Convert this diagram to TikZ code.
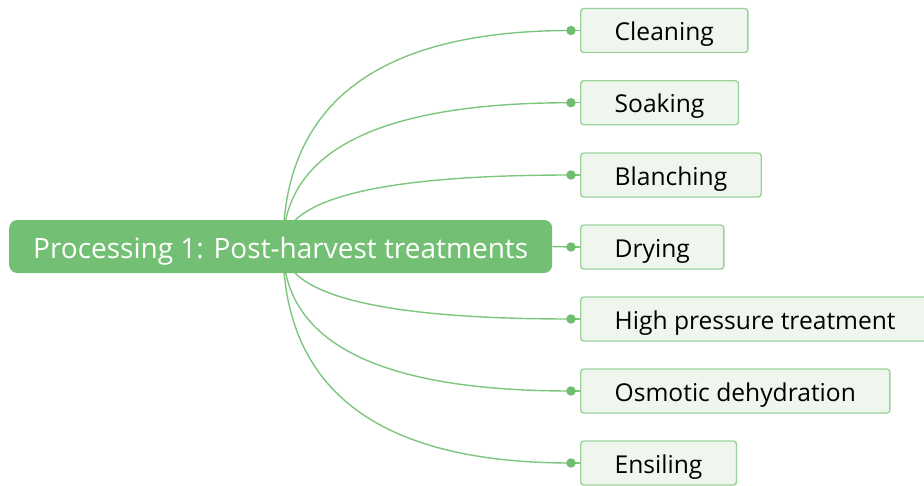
\documentclass[tikz,border=0pt]{standalone}
\usepackage{fontspec}
\setmainfont{Open Sans}
\usetikzlibrary{calc,backgrounds}
\definecolor{rootgreen}{HTML}{73BF74}
\definecolor{leaffill}{HTML}{EFF6EE}
\definecolor{leafedge}{HTML}{9AD29A}
\definecolor{linkgreen}{HTML}{7EC67E}
\definecolor{dotgreen}{HTML}{6FBE70}
\begin{document}
\begin{tikzpicture}[x=1pt,y=-1pt,
  rootbox/.style={fill=rootgreen, rounded corners=8pt, text=white,
    font=\fontsize{28}{32}\selectfont, inner xsep=24pt,
    text height=27pt, text depth=4pt,
    minimum height=53pt, anchor=west},
  leafbox/.style={fill=leaffill, draw=leafedge, line width=1.4pt,
    rounded corners=3pt, font=\fontsize{24.6}{28}\selectfont,
    text height=23pt, text depth=3pt,
    inner xsep=34pt, minimum height=44pt, anchor=west},
  dot/.style={circle, fill=dotgreen, inner sep=0pt, minimum size=9.5pt},
  link/.style={draw=linkgreen, line width=1.4pt}]
\useasboundingbox (0,0) rectangle (924,485);

% central topic
\node[rootbox] (root) at (9,246.5) {Processing 1: Post-harvest treatments};
\coordinate (hub) at (283,246.5);

% subtopics
\foreach \i/\y/\t in {1/30.5/Cleaning, 2/102.7/Soaking, 3/175/Blanching,
    4/247/Drying, 5/319/High pressure treatment,
    6/391/Osmotic dehydration, 7/463/Ensiling} {
  \node[leafbox] (n\i) at (580,\y) {\t};
  \node[dot] (d\i) at (571,\y) {};
}

\begin{pgfonlayer}{background}
  \foreach \i in {1,2,3,5,6,7} {
    \draw[link] (hub) .. controls ($(hub)!2/3!(hub|-d\i)$)
      and ($(d\i)!2/3!(hub|-d\i)$) .. (d\i.center);
  }
  \draw[link] (root.east) -- (d4.center);
  \foreach \i in {1,...,7} {
    \draw[link] (d\i.center) -- (n\i.west);
  }
\end{pgfonlayer}
\end{tikzpicture}
\end{document}
